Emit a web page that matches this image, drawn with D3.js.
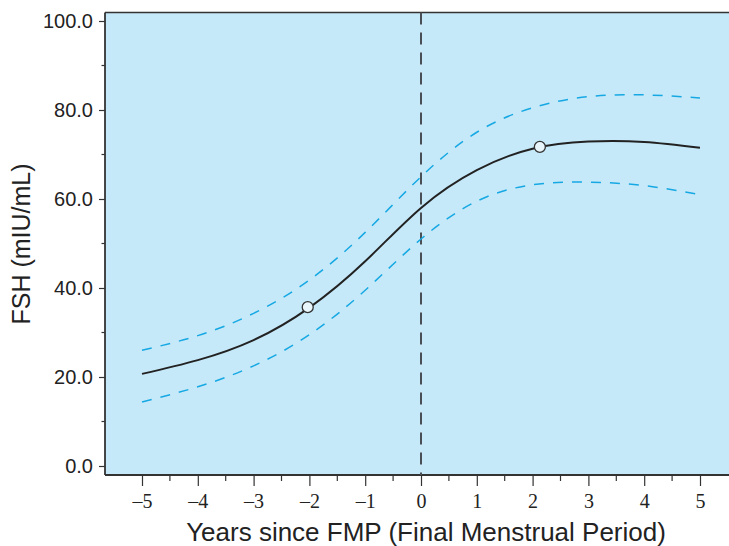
<!DOCTYPE html>
<html>
<head>
<meta charset="utf-8">
<script src="https://d3js.org/d3.v7.min.js"></script>
<style>
  body { margin: 0; background: #fff; }
  svg { display: block; }
</style>
</head>
<body>
<div id="chart"></div>
<script>
// years relative to FMP
const years = [-5, -4, -3, -2, -1, 0, 1, 2, 3, 4, 5];
// mean FSH curve and the dashed band around it
const fshMean  = [20.7, 23.8, 28.3, 35.6, 46.0, 58.0, 66.5, 71.3, 72.9, 72.8, 71.5];
const fshUpper = [26.0, 29.3, 34.3, 41.8, 52.5, 65.0, 75.0, 80.5, 83.0, 83.4, 82.7];
const fshLower = [14.4, 17.8, 22.5, 29.5, 39.5, 51.0, 59.5, 63.2, 63.8, 63.0, 61.0];
// marked points on the mean curve
const markX = [-2.03, 2.13];
const markY = [35.7, 71.7];
const yTicks = [0, 20, 40, 60, 80, 100];
const xTicks = [-5, -4, -3, -2, -1, 0, 1, 2, 3, 4, 5];

const W = 729, H = 546;
const plot = {left: 105, right: 735, top: 12.5, bottom: 475};

const svg = d3.select("#chart").append("svg")
    .attr("width", W).attr("height", H);

const x = d3.scaleLinear().domain([-5, 5]).range([142, 700]);
const y = d3.scaleLinear().domain([0, 100]).range([466, 21]);

// background panel
svg.append("rect")
    .attr("x", plot.left).attr("y", plot.top)
    .attr("width", plot.right - plot.left).attr("height", plot.bottom - plot.top)
    .attr("fill", "#c6e9f9");

// top border
svg.append("line")
    .attr("x1", plot.left).attr("x2", plot.right)
    .attr("y1", plot.top).attr("y2", plot.top)
    .attr("stroke", "#333").attr("stroke-width", 1.5);

// y axis
const yAxis = svg.append("g")
    .attr("transform", `translate(${plot.left},0)`)
    .call(d3.axisLeft(y).tickValues(yTicks).tickSize(6).tickPadding(6)
        .tickFormat(d => d.toFixed(1)));
yAxis.select(".domain").remove();
yAxis.selectAll("line").attr("stroke", "#333").attr("stroke-width", 1.2);
yAxis.selectAll("text")
    .attr("fill", "#222")
    .style("font-family", "'Liberation Sans', Arial, sans-serif")
    .style("font-size", "20px");
// minor y ticks
svg.append("g").selectAll("line")
    .data([10, 30, 50, 70, 90]).join("line")
    .attr("x1", plot.left - 3.5).attr("x2", plot.left)
    .attr("y1", d => y(d)).attr("y2", d => y(d))
    .attr("stroke", "#333").attr("stroke-width", 1.2);
svg.append("line")
    .attr("x1", plot.left).attr("x2", plot.left)
    .attr("y1", plot.top).attr("y2", plot.bottom)
    .attr("stroke", "#333").attr("stroke-width", 1.8);

// x axis
const xAxis = svg.append("g")
    .attr("transform", `translate(0,${plot.bottom})`)
    .call(d3.axisBottom(x).tickValues(xTicks).tickSize(11).tickPadding(8)
        .tickFormat(d => d < 0 ? "\u2013" + Math.abs(d) : String(d)));
xAxis.select(".domain").remove();
xAxis.selectAll("line").attr("stroke", "#333").attr("stroke-width", 1.2);
xAxis.selectAll("text")
    .attr("fill", "#222")
    .style("font-family", "'Liberation Serif', 'Times New Roman', serif")
    .style("font-size", "20px");
// minor x ticks
svg.append("g").selectAll("line")
    .data(d3.range(-4.5, 5, 1)).join("line")
    .attr("x1", d => x(d)).attr("x2", d => x(d))
    .attr("y1", plot.bottom).attr("y2", plot.bottom + 6)
    .attr("stroke", "#333").attr("stroke-width", 1.2);
svg.append("line")
    .attr("x1", plot.left).attr("x2", plot.right)
    .attr("y1", plot.bottom).attr("y2", plot.bottom)
    .attr("stroke", "#333").attr("stroke-width", 1.8);

// FMP reference line
svg.append("line")
    .attr("x1", x(0)).attr("x2", x(0))
    .attr("y1", plot.top).attr("y2", plot.bottom)
    .attr("stroke", "#4a4f55").attr("stroke-width", 2)
    .attr("stroke-dasharray", "12,8");

const line = d3.line()
    .x((d, i) => x(years[i]))
    .y(d => y(d))
    .curve(d3.curveNatural);

// dashed band
[fshUpper, fshLower].forEach(s => {
    svg.append("path")
        .datum(s)
        .attr("d", line)
        .attr("fill", "none")
        .attr("stroke", "#16a8e3")
        .attr("stroke-width", 1.5)
        .attr("stroke-dasharray", "10,9");
});

// mean curve
svg.append("path")
    .datum(fshMean)
    .attr("d", line)
    .attr("fill", "none")
    .attr("stroke", "#222")
    .attr("stroke-width", 2);

svg.append("g").selectAll("circle")
    .data(markX).join("circle")
    .attr("cx", d => x(d))
    .attr("cy", (d, i) => y(markY[i]))
    .attr("r", 5.5)
    .attr("fill", "#e8f6fc")
    .attr("stroke", "#333")
    .attr("stroke-width", 1.3);

// axis titles
svg.append("text")
    .attr("x", 426).attr("y", 541)
    .attr("text-anchor", "middle")
    .attr("fill", "#222")
    .style("font-family", "'Liberation Sans', Arial, sans-serif")
    .style("font-size", "26px")
    .text("Years since FMP (Final Menstrual Period)");

svg.append("text")
    .attr("transform", "translate(30,244) rotate(-90)")
    .attr("text-anchor", "middle")
    .attr("fill", "#222")
    .style("font-family", "'Liberation Sans', Arial, sans-serif")
    .style("font-size", "25px")
    .text("FSH (mIU/mL)");
</script>
</body>
</html>
